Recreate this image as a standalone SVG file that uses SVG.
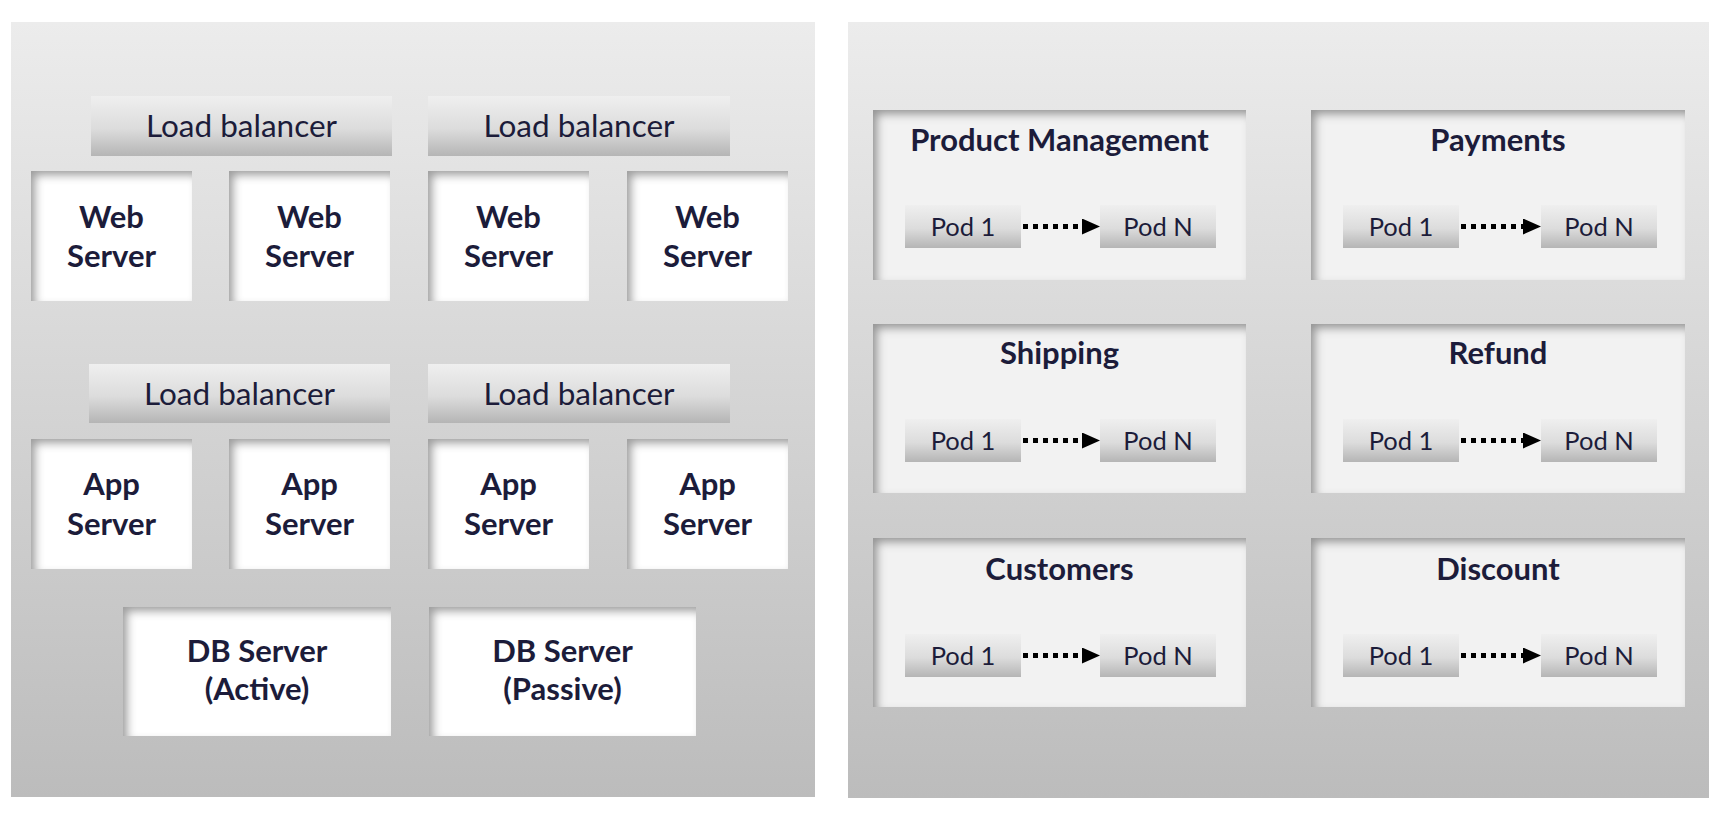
<svg xmlns="http://www.w3.org/2000/svg" width="1723" height="819" viewBox="0 0 1723 819">
<defs>
  <linearGradient id="panelGrad" x1="0" y1="0" x2="0" y2="1">
    <stop offset="0" stop-color="#ececec"/>
    <stop offset="1" stop-color="#bcbcbc"/>
  </linearGradient>
  <linearGradient id="barGrad" x1="0" y1="0" x2="0" y2="1">
    <stop offset="0" stop-color="#efefef"/>
    <stop offset="0.55" stop-color="#dcdcdc"/>
    <stop offset="1" stop-color="#b5b5b5"/>
  </linearGradient>
  <filter id="inset" x="-10%" y="-20%" width="120%" height="140%">
    <feComponentTransfer in="SourceAlpha" result="inv">
      <feFuncA type="table" tableValues="1 0"/>
    </feComponentTransfer>
    <feOffset in="inv" dx="5" dy="5" result="off"/>
    <feGaussianBlur in="off" stdDeviation="4" result="blur"/>
    <feFlood flood-color="#000000" flood-opacity="0.65" result="col"/>
    <feComposite in="col" in2="blur" operator="in" result="sh"/>
    <feComposite in="sh" in2="SourceAlpha" operator="in" result="shc"/>
    <feMerge>
      <feMergeNode in="SourceGraphic"/>
      <feMergeNode in="shc"/>
    </feMerge>
  </filter>
  <marker id="tri" markerUnits="userSpaceOnUse" markerWidth="18" markerHeight="16" refX="0" refY="8" orient="auto">
    <path d="M0,0 L18,8 L0,16 Z" fill="#000"/>
  </marker>
  <style>
    .panel { fill: url(#panelGrad); }
    .bar { fill: url(#barGrad); }
    .box { fill: #ffffff; filter: url(#inset); }
    .card { fill: #f2f2f2; filter: url(#inset); }
    .t { font-family: Lato, "Liberation Sans", sans-serif; fill: #1c1c3a; text-anchor: middle; }
    .b { font-weight: bold; font-size: 31px; }
    .lb { font-size: 31.5px; }
    .ttl { font-weight: bold; font-size: 31px; }
    .pod { font-size: 25.5px; }
    .dots { stroke: #000; stroke-width: 5; stroke-dasharray: 5 5; fill: none; }
  </style>
</defs>

<g id="panels">
  <rect class="panel" x="11" y="22" width="804" height="775"/>
  <rect class="panel" x="848" y="22" width="861" height="776"/>
</g>

<!-- Left: monolithic tiers -->
<g id="lb1"><rect class="bar" x="91" y="96" width="301" height="60"/><text class="t lb" x="241.5" y="137">Load balancer</text></g>
<g id="lb2"><rect class="bar" x="428" y="96" width="302" height="60"/><text class="t lb" x="579" y="137">Load balancer</text></g>

<g id="web1"><rect class="box" x="31" y="171" width="161" height="130"/><text class="t b" x="111.5" y="228">Web</text><text class="t b" x="111.5" y="267">Server</text></g>
<g id="web2"><rect class="box" x="229" y="171" width="161" height="130"/><text class="t b" x="309.5" y="228">Web</text><text class="t b" x="309.5" y="267">Server</text></g>
<g id="web3"><rect class="box" x="428" y="171" width="161" height="130"/><text class="t b" x="508.5" y="228">Web</text><text class="t b" x="508.5" y="267">Server</text></g>
<g id="web4"><rect class="box" x="627" y="171" width="161" height="130"/><text class="t b" x="707.5" y="228">Web</text><text class="t b" x="707.5" y="267">Server</text></g>

<g id="lb3"><rect class="bar" x="89" y="364" width="301" height="59"/><text class="t lb" x="239.5" y="405">Load balancer</text></g>
<g id="lb4"><rect class="bar" x="428" y="364" width="302" height="59"/><text class="t lb" x="579" y="405">Load balancer</text></g>

<g id="app1"><rect class="box" x="31" y="439" width="161" height="130"/><text class="t b" x="111.5" y="495">App</text><text class="t b" x="111.5" y="535">Server</text></g>
<g id="app2"><rect class="box" x="229" y="439" width="161" height="130"/><text class="t b" x="309.5" y="495">App</text><text class="t b" x="309.5" y="535">Server</text></g>
<g id="app3"><rect class="box" x="428" y="439" width="161" height="130"/><text class="t b" x="508.5" y="495">App</text><text class="t b" x="508.5" y="535">Server</text></g>
<g id="app4"><rect class="box" x="627" y="439" width="161" height="130"/><text class="t b" x="707.5" y="495">App</text><text class="t b" x="707.5" y="535">Server</text></g>

<g id="db1"><rect class="box" x="123" y="607" width="268" height="129"/><text class="t b" x="257" y="662">DB Server</text><text class="t b" x="257" y="700">(Active)</text></g>
<g id="db2"><rect class="box" x="429" y="607" width="267" height="129"/><text class="t b" x="562.5" y="662">DB Server</text><text class="t b" x="562.5" y="700">(Passive)</text></g>

<!-- Right: microservices -->
<g id="svc-product">
  <rect class="card" x="873" y="110" width="373" height="170"/>
  <text class="t ttl" x="1059.5" y="151">Product Management</text>
  <rect class="bar" x="905" y="205" width="116" height="43"/><text class="t pod" x="963" y="236">Pod 1</text>
  <rect class="bar" x="1100" y="205" width="116" height="43"/><text class="t pod" x="1158" y="236">Pod N</text>
</g>
<g id="svc-payments">
  <rect class="card" x="1311" y="110" width="374" height="170"/>
  <text class="t ttl" x="1498" y="151">Payments</text>
  <rect class="bar" x="1343" y="205" width="116" height="43"/><text class="t pod" x="1401" y="236">Pod 1</text>
  <rect class="bar" x="1541" y="205" width="116" height="43"/><text class="t pod" x="1599" y="236">Pod N</text>
</g>
<g id="svc-shipping">
  <rect class="card" x="873" y="324" width="373" height="169"/>
  <text class="t ttl" x="1059.5" y="364">Shipping</text>
  <rect class="bar" x="905" y="419" width="116" height="43"/><text class="t pod" x="963" y="450">Pod 1</text>
  <rect class="bar" x="1100" y="419" width="116" height="43"/><text class="t pod" x="1158" y="450">Pod N</text>
</g>
<g id="svc-refund">
  <rect class="card" x="1311" y="324" width="374" height="169"/>
  <text class="t ttl" x="1498" y="364">Refund</text>
  <rect class="bar" x="1343" y="419" width="116" height="43"/><text class="t pod" x="1401" y="450">Pod 1</text>
  <rect class="bar" x="1541" y="419" width="116" height="43"/><text class="t pod" x="1599" y="450">Pod N</text>
</g>
<g id="svc-customers">
  <rect class="card" x="873" y="538" width="373" height="169"/>
  <text class="t ttl" x="1059.5" y="580">Customers</text>
  <rect class="bar" x="905" y="634" width="116" height="43"/><text class="t pod" x="963" y="665">Pod 1</text>
  <rect class="bar" x="1100" y="634" width="116" height="43"/><text class="t pod" x="1158" y="665">Pod N</text>
</g>
<g id="svc-discount">
  <rect class="card" x="1311" y="538" width="374" height="169"/>
  <text class="t ttl" x="1498" y="580">Discount</text>
  <rect class="bar" x="1343" y="634" width="116" height="43"/><text class="t pod" x="1401" y="665">Pod 1</text>
  <rect class="bar" x="1541" y="634" width="116" height="43"/><text class="t pod" x="1599" y="665">Pod N</text>
</g>

<g id="connectors">
  <line class="dots" x1="1023" y1="226.5" x2="1082" y2="226.5" marker-end="url(#tri)"/>
  <line class="dots" x1="1461" y1="226.5" x2="1523" y2="226.5" marker-end="url(#tri)"/>
  <line class="dots" x1="1023" y1="440.5" x2="1082" y2="440.5" marker-end="url(#tri)"/>
  <line class="dots" x1="1461" y1="440.5" x2="1523" y2="440.5" marker-end="url(#tri)"/>
  <line class="dots" x1="1023" y1="655.5" x2="1082" y2="655.5" marker-end="url(#tri)"/>
  <line class="dots" x1="1461" y1="655.5" x2="1523" y2="655.5" marker-end="url(#tri)"/>
</g>
</svg>
